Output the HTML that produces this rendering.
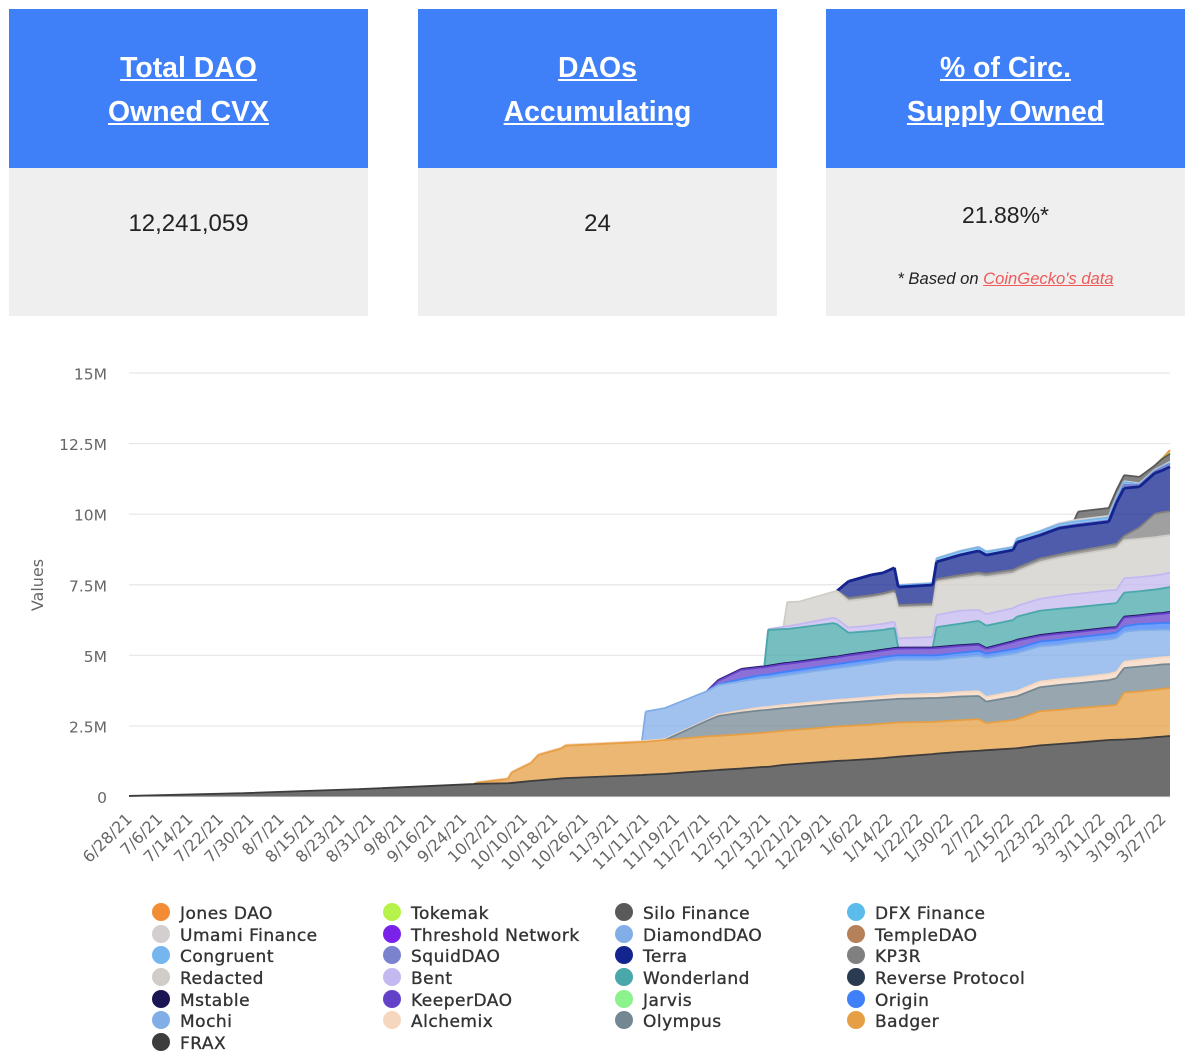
<!DOCTYPE html>
<html lang="en">
<head>
<meta charset="utf-8">
<title>DAO Owned CVX</title>
<style>
html,body{margin:0;padding:0;background:#fff;width:1200px;height:1061px;overflow:hidden}
body{position:relative;font-family:"Liberation Sans",sans-serif}
.card{position:absolute;top:9px;width:359px;height:307px;background:#efefef}
.card-head{height:159px;background:#3f80f9;text-align:center;color:#fff}
.card-head a{position:absolute;left:0;width:100%;color:#fff;font-weight:bold;font-size:28.4px;line-height:44px;text-decoration:underline}
.card-value{position:absolute;left:0;width:100%;text-align:center;color:#222;font-size:24px;line-height:30px}
.note{position:absolute;left:0;width:100%;text-align:center;color:#222;font-size:16.6px;font-style:italic;line-height:20px}
.note a{color:#ef5a5a;text-decoration:underline}
#chart{position:absolute;left:0;top:0}
</style>
</head>
<body>
<div class="card" style="left:9px">
  <div class="card-head">
    <a style="top:37px">Total DAO</a>
    <a style="top:81px">Owned CVX</a>
  </div>
  <div class="card-value" style="top:200px">12,241,059</div>
</div>
<div class="card" style="left:418px">
  <div class="card-head">
    <a style="top:37px">DAOs</a>
    <a style="top:81px">Accumulating</a>
  </div>
  <div class="card-value" style="top:200px">24</div>
</div>
<div class="card" style="left:826px">
  <div class="card-head">
    <a style="top:37px">% of Circ.</a>
    <a style="top:81px">Supply Owned</a>
  </div>
  <div class="card-value" style="top:191px;font-size:23px">21.88%*</div>
  <div class="note" style="top:260px">* Based on <a>CoinGecko's data</a></div>
</div>
<svg id="chart" width="1200" height="1061" viewBox="0 0 1200 1061" xmlns="http://www.w3.org/2000/svg"></svg>
<script>
const days = [0,30,60,90,91,99,100,105,107,113,114,134,135,140,151,154,160,165,166,167,171,172,175,184,185,188,194,197,200,201,210,211,217,222,224,231,232,238,243,247,248,256,258,260,264,268,270,272];
const xTickLabels = ["6/28/21","7/6/21","7/14/21","7/22/21","7/30/21","8/7/21","8/15/21","8/23/21","8/31/21","9/8/21","9/16/21","9/24/21","10/2/21","10/10/21","10/18/21","10/26/21","11/3/21","11/11/21","11/19/21","11/27/21","12/5/21","12/13/21","12/21/21","12/29/21","1/6/22","1/14/22","1/22/22","1/30/22","2/7/22","2/15/22","2/23/22","3/3/22","3/11/22","3/19/22","3/27/22"];
const yTickValues = [0,2.5,5,7.5,10,12.5,15];
const yTickLabels = ["0","2.5M","5M","7.5M","10M","12.5M","15M"];

const frax = [.02,.12,.26,.44,.45,.47,.48,.55,.57,.64,.65,.76,.77,.80,.91,.94,.99,1.04,1.05,1.05,1.12,1.13,1.16,1.25,1.26,1.28,1.33,1.36,1.40,1.41,1.50,1.52,1.58,1.62,1.64,1.70,1.71,1.81,1.86,1.90,1.91,2.00,2.01,2.02,2.05,2.10,2.12,2.14];
const badger = [0,0,0,0,.04,.15,.37,.63,.90,1.06,1.15,1.17,1.17,1.20,1.22,1.21,1.21,1.21,1.21,1.22,1.21,1.21,1.21,1.22,1.22,1.22,1.22,1.22,1.21,1.21,1.14,1.13,1.12,1.12,.96,1.01,1.02,1.21,1.21,1.22,1.22,1.22,1.23,1.66,1.67,1.68,1.69,1.70];
const olympus = [0,0,0,0,0,0,0,0,0,0,0,0,0,0,.55,.70,.77,.80,.80,.80,.80,.80,.81,.82,.82,.83,.84,.84,.84,.84,.85,.84,.84,.82,.76,.82,.82,.85,.88,.88,.88,.90,.95,.87,.88,.87,.87,.85];
const alchemix = [0,0,0,0,.02,.03,.03,.03,.03,.03,.03,.03,.03,.03,.03,.05,.07,.10,.10,.10,.11,.11,.11,.12,.12,.12,.13,.13,.14,.14,.15,.15,.16,.17,.17,.18,.18,.20,.20,.20,.20,.22,.22,.22,.24,.25,.25,.26];
const mochi = [0,0,0,0,0,0,0,0,0,0,0,0,1.04,1.10,1.02,1.05,1.04,1.03,1.03,1.03,1.04,1.05,1.07,1.12,1.13,1.15,1.19,1.22,1.24,1.24,1.20,1.20,1.23,1.26,1.38,1.35,1.35,1.25,1.22,1.25,1.25,1.22,1.20,1.06,1.05,1.00,.98,.95];
const origin = [0,0,0,0,0,0,0,0,0,0,0,0,0,0,0,.02,.08,.12,.12,.12,.13,.13,.13,.14,.14,.15,.15,.16,.16,.16,.16,.16,.16,.17,.15,.16,.16,.17,.18,.18,.18,.20,.20,.20,.22,.23,.24,.25];
const jarvis = [0,0,0,0,0,0,0,0,0,0,0,0,0,0,0,0,0,0,0,0,0,0,0,0,0,0,0,0,0,0,0,0,0,0,0,0,0,0,0,0,0,0,0,0,0,0,0,0];
const keeperDao = [0,0,0,0,0,0,0,0,0,0,0,0,0,0,0,.13,.33,.27,.27,.28,.28,.27,.26,.25,.24,.25,.25,.24,.24,.24,.25,.26,.24,.21,.17,.25,.28,.20,.22,.19,.19,.19,.16,.31,.28,.32,.32,.36];
const mstable = [0,0,0,0,0,0,0,0,0,0,0,0,0,0,0,.03,.03,.03,.03,.03,.03,.03,.03,.03,.03,.03,.03,.03,.03,.03,.03,.03,.03,.03,.03,.03,.03,.03,.03,.03,.03,.03,.03,.03,.03,.03,.03,.03];
const reverseProtocol = [0,0,0,0,0,0,0,0,0,0,0,0,0,0,0,0,0,0,0,0,0,0,0,0,0,0,0,0,0,0,0,0,0,0,0,0,0,0,0,0,0,0,0,0,0,0,0,0];
const wonderland = [0,0,0,0,0,0,0,0,0,0,0,0,0,0,0,0,0,0,0,1.27,1.21,1.20,1.20,1.19,1.14,.77,.72,.70,.71,0,0,.71,.76,.82,.79,.75,.82,.86,.85,.85,.85,.84,.85,.85,.85,.85,.87,.88];
const bent = [0,0,0,0,0,0,0,0,0,0,0,0,0,0,0,0,0,0,0,.03,.08,.10,.12,.19,.19,.18,.20,.22,.22,.33,.37,.43,.46,.39,.41,.42,.38,.42,.45,.47,.47,.48,.46,.51,.50,.50,.50,.51];
const redacted = [0,0,0,0,0,0,0,0,0,0,0,0,0,0,0,0,0,0,0,0,0,.86,.80,.92,.99,.95,.97,.98,1.01,1.08,1.07,1.17,1.14,1.20,1.31,1.23,1.22,1.30,1.35,1.38,1.39,1.45,1.49,1.35,1.36,1.35,1.35,1.33];
const kp3r = [0,0,0,0,0,0,0,0,0,0,0,0,0,0,0,0,0,0,0,0,0,0,0,0,0,.10,.10,.10,.10,.10,.10,.10,.12,.12,.12,.13,.13,.13,.12,.13,.13,.15,.15,.15,.40,.83,.85,.84];
const terra = [0,0,0,0,0,0,0,0,0,0,0,0,0,0,0,0,0,0,0,0,0,0,0,0,0,.59,.72,.72,.80,.64,.67,.61,.71,.77,.66,.70,.90,.82,.93,.90,.90,.83,1.45,1.69,1.44,1.44,1.48,1.58];
const squidDao = [0,0,0,0,0,0,0,0,0,0,0,0,0,0,0,0,0,0,0,0,0,0,0,0,0,0,0,0,0,0,0,0,0,0,0,0,.03,.04,.04,.05,.05,.05,.08,.12,.06,.06,.10,.10];
const congruent = [0,0,0,0,0,0,0,0,0,0,0,0,0,0,0,0,0,0,0,0,0,0,0,0,0,0,0,0,0,.06,.06,.12,.13,.13,.12,.10,.10,.10,.10,.10,.10,.10,.10,.10,.03,.03,.03,.03];
const templeDao = [0,0,0,0,0,0,0,0,0,0,0,0,0,0,0,0,0,0,0,0,0,0,0,0,0,0,0,0,0,0,0,0,0,0,0,0,0,0,0,0,0,0,0,0,0,0,0,0];
const diamondDao = [0,0,0,0,0,0,0,0,0,0,0,0,0,0,0,0,0,0,0,0,0,0,0,0,0,0,0,0,0,0,0,0,0,0,0,0,0,0,0,0,0,0,0,0,0,0,0,0];
const thresholdNetwork = [0,0,0,0,0,0,0,0,0,0,0,0,0,0,0,0,0,0,0,0,0,0,0,0,0,0,0,0,0,0,0,0,0,0,0,0,0,0,0,0,0,0,0,0,0,0,0,0];
const umamiFinance = [0,0,0,0,0,0,0,0,0,0,0,0,0,0,0,0,0,0,0,0,0,0,0,0,0,.02,.02,.02,.02,.02,.02,.02,.02,.02,.02,.02,.02,.02,.04,.06,.06,.06,.03,.03,.03,.03,.03,.05];
const dfxFinance = [0,0,0,0,0,0,0,0,0,0,0,0,0,0,0,0,0,0,0,0,0,0,0,0,0,0,0,0,0,0,0,0,0,0,0,0,0,0,0,0,0,0,0,0,0,0,0,0];
const siloFinance = [0,0,0,0,0,0,0,0,0,0,0,0,0,0,0,0,0,0,0,0,0,0,0,0,0,0,0,0,0,0,0,0,0,0,0,0,0,0,0,0,.28,.28,.24,.21,.23,.15,.25,.28];
const tokemak = [0,0,0,0,0,0,0,0,0,0,0,0,0,0,0,0,0,0,0,0,0,0,0,0,0,0,0,0,0,0,0,0,0,0,0,0,0,0,0,0,0,0,0,0,0,0,.01,.03];
const jonesDao = [0,0,0,0,0,0,0,0,0,0,0,0,0,0,0,0,0,0,0,0,0,0,0,0,0,0,0,0,0,0,0,0,0,0,0,0,0,0,0,0,0,0,0,0,0,0,.01,.10];

const stackOrder = [
  ["FRAX",frax,"#3d3d3d"],["Badger",badger,"#e69f44"],["Olympus",olympus,"#748894"],["Alchemix",alchemix,"#f5d7c0"],
  ["Mochi",mochi,"#82aee8"],["Origin",origin,"#3f80f9"],["Jarvis",jarvis,"#8cf28c"],["KeeperDAO",keeperDao,"#6441c9"],
  ["Mstable",mstable,"#1b1554"],["Reverse Protocol",reverseProtocol,"#2a3a50"],["Wonderland",wonderland,"#4aa8ab"],["Bent",bent,"#c4b8f0"],
  ["Redacted",redacted,"#d0cdc8"],["KP3R",kp3r,"#808080"],["Terra",terra,"#14248f"],["SquidDAO",squidDao,"#7b83cf"],
  ["Congruent",congruent,"#75b6ef"],["TempleDAO",templeDao,"#b5805a"],["DiamondDAO",diamondDao,"#82aee8"],["Threshold Network",thresholdNetwork,"#7a22ea"],
  ["Umami Finance",umamiFinance,"#d3cfcf"],["DFX Finance",dfxFinance,"#5bbcec"],["Silo Finance",siloFinance,"#5a5a5a"],["Tokemak",tokemak,"#b5f34a"],["Jones DAO",jonesDao,"#f28d35"]
];
const legendColumns = [
  ["Jones DAO","Umami Finance","Congruent","Redacted","Mstable","Mochi","FRAX"],
  ["Tokemak","Threshold Network","SquidDAO","Bent","KeeperDAO","Alchemix"],
  ["Silo Finance","DiamondDAO","Terra","Wonderland","Jarvis","Olympus"],
  ["DFX Finance","TempleDAO","KP3R","Reverse Protocol","Origin","Badger"]
];

const NS = "http://www.w3.org/2000/svg";
const svg = document.getElementById("chart");
const plotLeft = 129, plotRight = 1170, plotBottom = 796.5, plotTop = 373, maxDay = 272, maxValue = 15;
const xScale = d => plotLeft + d * (plotRight - plotLeft) / maxDay;
const xLabelScale = d => 133 + d * (1167 - 133) / maxDay;
const yScale = v => plotBottom - v * (plotBottom - plotTop) / maxValue;
const kebab = s => s.toLowerCase().replace(/[^a-z0-9]+/g, "-");
function make(tag, attrs, parent) {
  const el = document.createElementNS(NS, tag);
  for (const k in attrs) el.setAttribute(k, attrs[k]);
  (parent || svg).appendChild(el);
  return el;
}
const tickFont = '"DejaVu Sans","Liberation Sans",sans-serif';

yTickValues.forEach((v, i) => {
  const line = make("line", {x1: plotLeft, x2: plotRight, y1: yScale(v), y2: yScale(v), stroke: "#e6e6e6", "stroke-width": 1.2});
  
  
  const label = make("text", {x: 107, y: yScale(v) + 6.5, "text-anchor": "end", "font-family": tickFont, "font-size": 15.5, fill: "#666"});
  label.textContent = yTickLabels[i];
  
  
});

const yTitle = make("text", {x: 0, y: 0, transform: "translate(43,585) rotate(-90)", "text-anchor": "middle", "font-family": tickFont, "font-size": 16, fill: "#666"});
yTitle.textContent = "Values";



xTickLabels.forEach((t, i) => {
  const tx = xLabelScale(i * 8), ty = 820;
  const label = make("text", {x: tx, y: ty, transform: "rotate(-45 " + tx + " " + ty + ")", "text-anchor": "end", "font-family": tickFont, "font-size": 16, fill: "#666"});
  label.textContent = t;
  
  
});

const areaLayer = make("g", {});


const baseline = days.map(() => 0);
const stacked = [];
stackOrder.forEach(([name, values, color]) => {
  const lower = baseline.slice();
  const upper = values.map((v, i) => lower[i] + v);
  upper.forEach((v, i) => { baseline[i] = v; });
  stacked.push({name, values, color, lower, upper});
});
stacked.slice().reverse().forEach(({name, values, color, lower, upper}) => {
  if (!values.some(v => v > 0)) return;
  let up = "", down = "";
  days.forEach((d, i) => {
    up += (i ? "L" : "M") + xScale(d).toFixed(2) + " " + yScale(upper[i]).toFixed(2);
  });
  for (let i = days.length - 1; i >= 0; i--) {
    down += "L" + xScale(days[i]).toFixed(2) + " " + yScale(lower[i]).toFixed(2);
  }
  const area = make("path", {d: up + down + "Z", fill: color, "fill-opacity": 0.75, stroke: "none"}, areaLayer);
  
  
  let top = "";
  for (let i = 1; i < days.length; i++) {
    if (values[i] > 0 || values[i - 1] > 0) {
      top += "M" + xScale(days[i - 1]).toFixed(2) + " " + yScale(upper[i - 1]).toFixed(2) + "L" + xScale(days[i]).toFixed(2) + " " + yScale(upper[i]).toFixed(2);
    }
  }
  const line = make("path", {d: top, fill: "none", stroke: color, "stroke-width": name === "Terra" ? 2.8 : 1.8, "stroke-linejoin": "round"}, areaLayer);
  
  
});

const legendX = [161, 392, 624, 856];
const legendY = [913, 935, 956, 978, 1000, 1021, 1043];
legendColumns.forEach((col, c) => {
  col.forEach((name, r) => {
    const color = stackOrder.find(s => s[0] === name)[2];
    const entry = make("g", {});
    
    
    const dot = make("circle", {cx: legendX[c], cy: legendY[r] - 1, r: 9, fill: color}, entry);
    
    
    const label = make("text", {x: legendX[c] + 19, y: legendY[r] + 6, "font-family": tickFont, "font-size": 17, "letter-spacing": 0.5, fill: "#333", stroke: "#333", "stroke-width": 0.35}, entry);
    label.textContent = name;
    
    
  });
});
</script>
</body>
</html>
